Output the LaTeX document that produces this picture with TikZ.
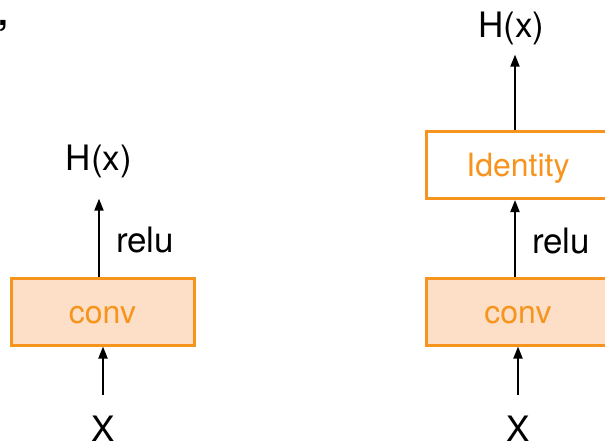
\documentclass[tikz,border=0pt]{standalone}
\usepackage{fontspec}
\setmainfont{TeX Gyre Heros}
\usetikzlibrary{arrows.meta}
\definecolor{orng}{HTML}{F7941E}
\definecolor{orngfill}{HTML}{FCDFC6}
\tikzset{
  blk/.style={draw=orng, line width=3pt, minimum width=183pt, minimum height=67pt,
    inner sep=0pt, text=orng, font=\fontsize{32}{36}\selectfont, text height=23pt, text depth=0pt},
  convblk/.style={blk, fill=orngfill},
  idblk/.style={blk, fill=white},
  lbl/.style={inner sep=0pt, font=\fontsize{35}{40}\selectfont},
  arr/.style={line width=1.8pt, -{Triangle[length=12pt,width=9pt]}}
}
\begin{document}
\begin{tikzpicture}[x=1pt,y=-1pt]
\useasboundingbox (0,0) rectangle (605,444);
\clip (0,0) rectangle (605,444);
% stray comma
\node[lbl, anchor=base west] (comma) at (-2,26) {\textbf{,}};
% left diagram
\node[convblk] (convl) at (102.5,311.5) {conv};
\node[lbl, anchor=base] (xl) at (103,441) {X};
\node[lbl, anchor=base] (hl) at (99,170) {H(x)};
\node[lbl, anchor=base west] (relul) at (116,252) {relu};
\draw[arr, shorten <=20pt] (xl.north) -- (xl.north |- convl.south);
\draw[arr, shorten >=21pt] (convl.north -| hl) -- (hl.south);
% right diagram
\node[convblk] (convr) at (518,311.5) {conv};
\node[idblk] (idr) at (518,165) {Identity};
\node[lbl, anchor=base] (xr) at (518,441) {X};
\node[lbl, anchor=base] (hr) at (511.5,38) {H(x)};
\node[lbl, anchor=base west] (relur) at (532,253) {relu};
\draw[arr, shorten <=20pt] (xr.north) -- (convr.south);
\draw[arr] ([xshift=-3pt]convr.north) -- ([xshift=-3pt]idr.south);
\draw[arr, shorten >=9pt] ([xshift=-3pt]idr.north) -- ([xshift=-3pt]idr.north |- hr.south);
\end{tikzpicture}
\end{document}
